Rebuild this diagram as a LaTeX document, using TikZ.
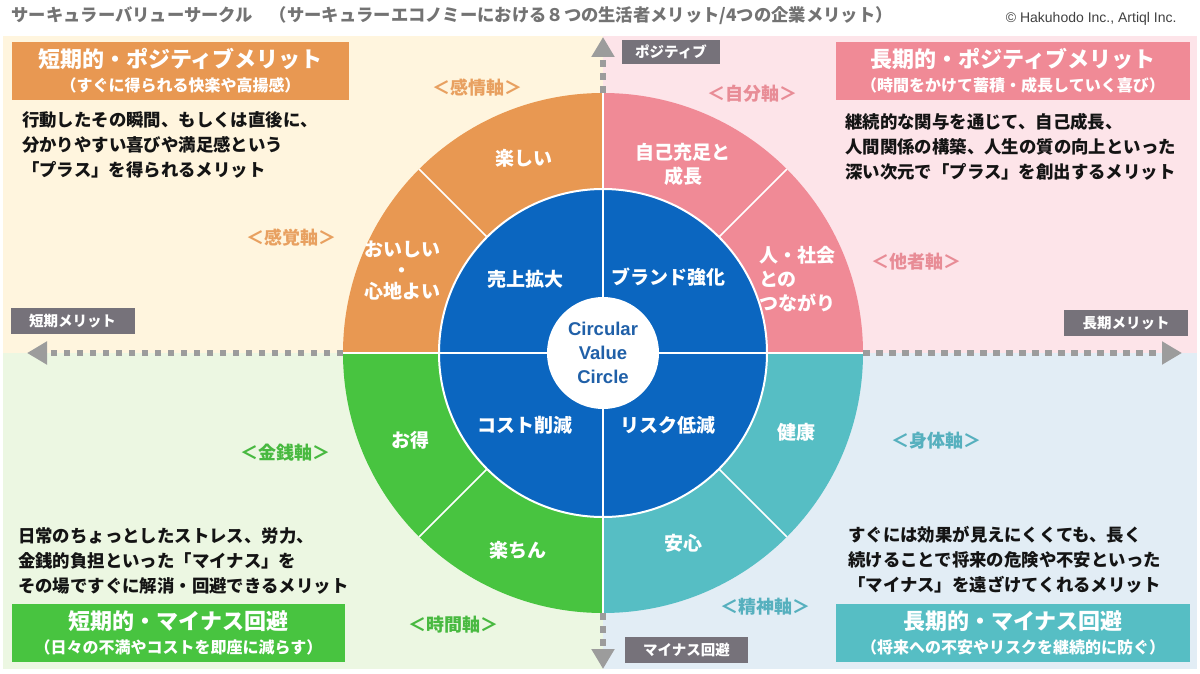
\documentclass[tikz,border=0pt]{standalone}
\usepackage{fontspec}
\setmainfont{Noto Sans CJK JP}
\newfontfamily\latinfont{Liberation Sans}
\usepackage{xcolor}
\usepackage{tikz}
\usetikzlibrary{arrows.meta}

\definecolor{segOrange}{HTML}{E89852}
\definecolor{segPink}{HTML}{F08A96}
\definecolor{segGreen}{HTML}{48C440}
\definecolor{segTeal}{HTML}{56BEC4}
\definecolor{coreBlue}{HTML}{0B66C0}
\definecolor{cvcBlue}{HTML}{2060A8}
\definecolor{bgOrange}{HTML}{FFF5DE}
\definecolor{bgPink}{HTML}{FDE4E9}
\definecolor{bgGreen}{HTML}{ECF7E2}
\definecolor{bgTeal}{HTML}{E2EDF5}
\definecolor{axOrange}{HTML}{E8A060}
\definecolor{axPink}{HTML}{E88C96}
\definecolor{axGreen}{HTML}{48B940}
\definecolor{axTeal}{HTML}{56B0BE}
\definecolor{tagGray}{HTML}{76727A}
\definecolor{arrGray}{HTML}{9C9C9C}

\newcommand{\hdrsub}[1]{{\fontsize{16}{18}\selectfont #1}}

\begin{document}
\begin{tikzpicture}[x=1pt, y=1pt,
  hdr/.style={
    rectangle,
    fill=#1,
    text=white,
    minimum width=337pt,
    minimum height=58pt,
    inner sep=0pt,
    align=center,
    font=\bfseries\fontsize{22}{24}\selectfont
  },
  tag/.style={rectangle, fill=tagGray, text=white, inner sep=0pt, minimum height=26pt,
    font=\bfseries\fontsize{14.5}{16}\selectfont},
  axis/.style={text=#1, font=\bfseries\fontsize{18}{20}\selectfont},
  seg/.style={text=white, align=center, font=\bfseries\fontsize{19}{24}\selectfont},
  body/.style={anchor=north west, inner sep=0pt, align=left, text=black!92,
    font=\bfseries\fontsize{17.4}{25}\selectfont},
  arr/.style={-{Triangle[length=20pt, width=22pt]}, line width=6.5pt, arrGray,
    dash pattern=on 6.5pt off 6.5pt}
]
\useasboundingbox (0,0) rectangle (1200,-674);

% Background panels
\fill[bgOrange] (3,-36) rectangle (603,-353);
\fill[bgPink]   (603,-36) rectangle (1197,-353);
\fill[bgGreen]  (3,-353) rectangle (603,-669);
\fill[bgTeal]   (603,-353) rectangle (1197,-669);

% Title
\node[anchor=west, text=black!55, font=\bfseries\fontsize{17.3}{19}\selectfont] (title) at (8,-16)
{サーキュラーバリューサークル　（サーキュラーエコノミーにおける８つの生活者メリット/4つの企業メリット）};
\node[anchor=east, text=black!75, font=\latinfont\fontsize{14}{16}\selectfont] (copy) at (1180,-19)
{© Hakuhodo Inc., Artiql Inc.};

% Circle
\coordinate (ctr) at (603,-353);
\node[circle, minimum size=520pt, inner sep=0pt, outer sep=0pt] (outer) at (ctr) {};
\fill[segOrange] (ctr) -- (outer.west) arc[start angle=180, end angle=90, radius=260] -- cycle;
\fill[segPink]   (ctr) -- (outer.north) arc[start angle=90, end angle=0, radius=260] -- cycle;
\fill[segTeal]   (ctr) -- (outer.east) arc[start angle=0, end angle=-90, radius=260] -- cycle;
\fill[segGreen]  (ctr) -- (outer.south) arc[start angle=-90, end angle=-180, radius=260] -- cycle;
\node[circle, fill=coreBlue, draw=white, line width=2pt, minimum size=328pt, inner sep=0pt, outer sep=0pt] (core) at (ctr) {};
\foreach \a in {45,135,225,315}
  \draw[white, line width=1.5pt] (core.\a) -- (outer.\a);
\draw[white, line width=2pt] (outer.west) -- (outer.east);
\draw[white, line width=2pt] (outer.north) -- (outer.south);
\node[circle, fill=white, minimum size=112pt, inner sep=0pt, align=center, text=cvcBlue,
  font=\latinfont\bfseries\fontsize{18.5}{24}\selectfont] (cvc) at (ctr) {Circular\\Value\\Circle};

% Arrows
\coordinate (tipN) at (603,-37);
\coordinate (tipS) at (603,-669);
\coordinate (tipW) at (27,-353);
\coordinate (tipE) at (1182,-353);
\draw[arr] (outer.north) -- (tipN);
\draw[arr] (outer.south) -- (tipS);
\draw[arr] (outer.west) -- (tipW);
\draw[arr] (outer.east) -- (tipE);

% Gray tags
\node[tag, minimum width=98pt, minimum height=24pt] (tagPos) at (671,-52) {ポジティブ};
\node[tag, minimum width=124pt] (tagShort) at (72.5,-321) {短期メリット};
\node[tag, minimum width=124pt] (tagLong) at (1126,-323) {長期メリット};
\node[tag, minimum width=123pt] (tagMinus) at (686.5,-649.5) {マイナス回避};

% Headers
\node[hdr=segOrange] (hdrTL) at (180.5,-71)
{短期的・ポジティブメリット\\\hdrsub{（すぐに得られる快楽や高揚感）}};
\node[hdr=segPink, minimum width=354pt] (hdrTR) at (1013,-71)
{長期的・ポジティブメリット\\\hdrsub{（時間をかけて蓄積・成長していく喜び）}};
\node[hdr=segGreen, minimum width=333pt] (hdrBL) at (178.5,-633)
{短期的・マイナス回避\\\hdrsub{（日々の不満やコストを即座に減らす）}};
\node[hdr=segTeal, minimum width=354pt] (hdrBR) at (1013,-633)
{長期的・マイナス回避\\\hdrsub{（将来への不安やリスクを継続的に防ぐ）}};

% Body texts
\node[body] (txtTL) at (22,-111)
{行動したその瞬間、もしくは直後に、\\分かりやすい喜びや満足感という\\「プラス」を得られるメリット};
\node[body] (txtTR) at (845,-113)
{継続的な関与を通じて、自己成長、\\人間関係の構築、人生の質の向上といった\\深い次元で「プラス」を創出するメリット};
\node[body] (txtBL) at (18,-527)
{日常のちょっとしたストレス、労力、\\金銭的負担といった「マイナス」を\\その場ですぐに解消・回避できるメリット};
\node[body] (txtBR) at (848,-526)
{すぐには効果が見えにくくても、長く\\続けることで将来の危険や不安といった\\「マイナス」を遠ざけてくれるメリット};

% Axis labels
\node[axis=axOrange] (axEmo)   at (477,-88)  {＜感情軸＞};
\node[axis=axPink]   (axSelf)  at (752,-94)  {＜自分軸＞};
\node[axis=axOrange] (axSense) at (291,-238) {＜感覚軸＞};
\node[axis=axPink]   (axOther) at (916,-262) {＜他者軸＞};
\node[axis=axGreen]  (axMoney) at (285,-453) {＜金銭軸＞};
\node[axis=axTeal]   (axBody)  at (936,-441) {＜身体軸＞};
\node[axis=axGreen]  (axTime)  at (453,-625) {＜時間軸＞};
\node[axis=axTeal]   (axMind)  at (765,-607) {＜精神軸＞};

% Segment labels
\node[seg] (sFun)   at (524,-158) {楽しい};
\node[seg, font=\bfseries\fontsize{19}{21}\selectfont] (sTasty) at (402,-271) {おいしい\\・\\心地よい};
\node[seg] (sGrow)  at (683,-164) {自己充足と\\成長};
\node[seg, align=left] (sLink) at (797,-279) {人・社会\\との\\つながり};
\node[seg] (sSales) at (525,-279) {売上拡大};
\node[seg] (sBrand) at (668,-277) {ブランド強化};
\node[seg] (sCost)  at (525,-425) {コスト削減};
\node[seg] (sRisk)  at (668,-425) {リスク低減};
\node[seg] (sDeal)  at (410,-440) {お得};
\node[seg] (sHealth) at (796,-432) {健康};
\node[seg] (sEasy)  at (518,-550) {楽ちん};
\node[seg] (sSafe)  at (683,-543) {安心};

\end{tikzpicture}
\end{document}
